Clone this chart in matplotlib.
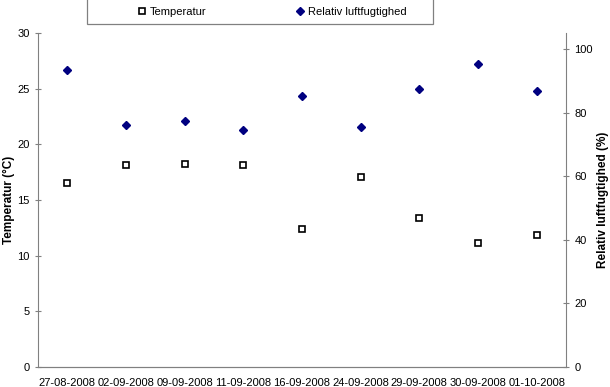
import matplotlib.pyplot as plt
from matplotlib.patches import Rectangle

plt.rcParams['font.family'] = ['Liberation Sans', 'DejaVu Sans']

dates = ['27-08-2008', '02-09-2008', '09-09-2008', '11-09-2008', '16-09-2008',
         '24-09-2008', '29-09-2008', '30-09-2008', '01-10-2008']
temperatur = [16.5, 18.1, 18.2, 18.1, 12.4, 17.1, 13.4, 11.1, 11.9]
luftfugtighed = [93.5, 76.2, 77.4, 74.6, 85.1, 75.5, 87.5, 95.2, 86.7]

fig = plt.figure(figsize=(6.1, 3.87), dpi=100)
ax = fig.add_axes([0.0623, 0.0517, 0.8656, 0.8630])
ax2 = ax.twinx()

x = list(range(len(dates)))
l1, = ax.plot(x, temperatur, linestyle='none', marker='s', markersize=5,
              markerfacecolor='white', markeredgecolor='black', markeredgewidth=1.2,
              label='Temperatur')
l2, = ax2.plot(x, luftfugtighed, linestyle='none', marker='D', markersize=4.5,
               color='#000080', label='Relativ luftfugtighed')

ax.set_xlim(-0.5, len(dates) - 0.5)
ax.set_ylim(0, 30)
ax.set_yticks(range(0, 31, 5))
ax2.set_ylim(0, 105)
ax2.set_yticks(range(0, 101, 20))
ax.set_xticks(x)
ax.set_xticklabels(dates)

for a in (ax, ax2):
    for s in a.spines.values():
        s.set_color('#808080')
    a.spines['top'].set_visible(False)
    a.tick_params(labelsize=8, color='#808080', direction='inout', length=5)
ax.spines['right'].set_visible(False)
ax2.spines['left'].set_visible(False)
ax.tick_params(axis='x', length=0, pad=8)

ax.set_ylabel('Temperatur (°C)', fontsize=8.5, fontweight='bold')
ax.yaxis.set_label_coords(-0.043, 0.5)
ax2.set_ylabel('Relativ luftfugtighed (%)', fontsize=8.5, fontweight='bold', rotation=90)
ax2.yaxis.set_label_coords(1.058, 0.5)

# legend box like the excel one
fig.patches.append(Rectangle((0.1426, 0.937), 0.567, 0.07, transform=fig.transFigure,
                             facecolor='white', edgecolor='#808080', linewidth=0.9))
fig.legend(handles=[l1, l2], loc='center', bbox_to_anchor=(0.446, 0.969),
           ncol=2, fontsize=8, frameon=False, handlelength=0.8,
           handletextpad=0.3, columnspacing=8.0)

fig.savefig('out.png', dpi=100)
